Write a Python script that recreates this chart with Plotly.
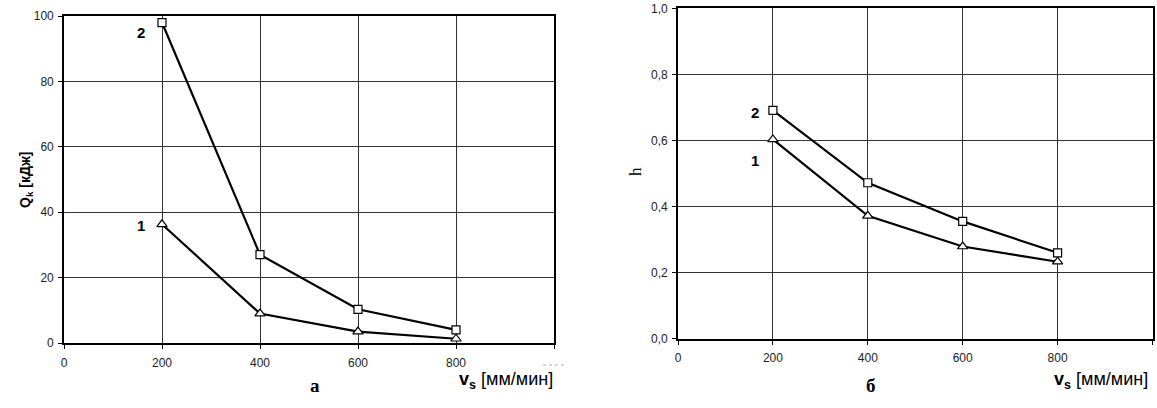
import plotly.graph_objects as go

W, H = 1157, 408

vs = [200, 400, 600, 800]
# chart а: Qk [кДж]
qk_1 = [36.3, 9.0, 3.5, 1.3]
qk_2 = [98.0, 27.0, 10.3, 4.0]
# chart б: h
h_1 = [0.603, 0.372, 0.279, 0.233]
h_2 = [0.691, 0.472, 0.355, 0.260]

x_ticks = [0, 200, 400, 600, 800, 1000]
x_ticktext = ["0", "200", "400", "600", "800", ""]
qk_ticks = [0, 20, 40, 60, 80, 100]
h_ticks = [0.0, 0.2, 0.4, 0.6, 0.8, 1.0]
h_ticktext = ["0,0", "0,2", "0,4", "0,6", "0,8", "1,0"]

SANS = "Liberation Sans, Arial, sans-serif"
SERIF = "Liberation Serif, Times New Roman, serif"

fig = go.Figure()

def add_series(x, y, xa, ya, symbol, size):
    fig.add_trace(go.Scatter(
        x=x, y=y, xaxis=xa, yaxis=ya, mode="lines+markers",
        line=dict(color="black", width=2.2),
        marker=dict(symbol=symbol, size=size, color="white",
                    line=dict(color="black", width=1.2)),
        showlegend=False, hoverinfo="skip"))

add_series(vs, qk_1, "x", "y", "triangle-up", 9)
add_series(vs, qk_2, "x", "y", "square", 8)
add_series(vs, h_1, "x2", "y2", "triangle-up", 9)
add_series(vs, h_2, "x2", "y2", "square", 8)

def px_x(a, b):
    return [a / W, b / W]

def px_y(top, bottom):
    return [(H - bottom) / H, (H - top) / H]

axis_common = dict(
    showline=True, linecolor="black", linewidth=1.6, mirror=True,
    showgrid=True, gridcolor="#333", gridwidth=1,
    ticks="outside", ticklen=4, tickcolor="black", tickwidth=1,
    zeroline=False, automargin=False,
    tickfont=dict(family=SANS, size=12, color="#222"),
)

fig.update_layout(
    width=W, height=H, margin=dict(l=0, r=0, t=0, b=0, autoexpand=False),
    paper_bgcolor="white", plot_bgcolor="white",
    xaxis=dict(domain=px_x(64, 554), range=[0, 1000], tickvals=x_ticks,
               ticktext=x_ticktext, anchor="y", ticklabelstandoff=4,
               **axis_common),
    yaxis=dict(domain=px_y(16, 343), range=[0, 100], tickvals=qk_ticks,
               anchor="x", ticklabelstandoff=2, **axis_common),
    xaxis2=dict(domain=px_x(678, 1152.5), range=[0, 1000], tickvals=x_ticks,
                ticktext=x_ticktext, anchor="y2", ticklabelstandoff=3,
                **axis_common),
    yaxis2=dict(domain=px_y(8.3, 338.7), range=[0, 1.0], tickvals=h_ticks,
                ticktext=h_ticktext, anchor="x2", ticklabelstandoff=2,
                **axis_common),
)

lab_font = dict(family=SANS, size=15, color="black")
ann = [
    dict(x=vs[0], y=qk_2[0], xref="x", yref="y", text="<b>2</b>", showarrow=False,
         xshift=-21, yshift=-10, font=lab_font),
    dict(x=vs[0], y=qk_1[0], xref="x", yref="y", text="<b>1</b>", showarrow=False,
         xshift=-21, yshift=-1, font=lab_font),
    dict(x=vs[0], y=h_2[0], xref="x2", yref="y2", text="<b>2</b>", showarrow=False,
         xshift=-18, yshift=-2, font=lab_font),
    dict(x=vs[0], y=h_1[0], xref="x2", yref="y2", text="<b>1</b>", showarrow=False,
         xshift=-18, yshift=-21, font=lab_font),
    # y titles
    dict(x=15 / W, y=1 - 180 / H, xref="paper", yref="paper",
         text="<b>Q<sub>k</sub> [кДж]</b>", textangle=-90, showarrow=False,
         font=dict(family=SANS, size=14, color="black")),
    dict(x=635 / W, y=1 - 172 / H, xref="paper", yref="paper",
         text="h", textangle=-90, showarrow=False,
         font=dict(family=SERIF, size=17, color="black")),
    # x titles
    dict(x=555 / W, y=1 - 367 / H, xref="paper", yref="paper",
         xanchor="right", yanchor="top",
         text="<b>v</b><sub><b>s</b></sub> [мм/мин]", showarrow=False,
         font=dict(family=SANS, size=18, color="black")),
    dict(x=1150 / W, y=1 - 367 / H, xref="paper", yref="paper",
         xanchor="right", yanchor="top",
         text="<b>v</b><sub><b>s</b></sub> [мм/мин]", showarrow=False,
         font=dict(family=SANS, size=18, color="black")),
    # panel letters
    dict(x=308 / W, y=1 - 398 / H, xref="paper", yref="paper",
         text="<b>а</b>", showarrow=False,
         font=dict(family=SERIF, size=19, color="black")),
    dict(x=878 / W, y=1 - 398 / H, xref="paper", yref="paper",
         text="<b>б</b>", showarrow=False,
         font=dict(family=SERIF, size=19, color="black")),
]
fig.update_layout(annotations=ann)

# small dotted scan artefact to the right of the first x title
fig.add_shape(type="line", xref="paper", yref="paper",
              x0=543 / W, x1=567 / W, y0=1 - 365 / H, y1=1 - 365 / H,
              line=dict(color="#aaa", width=1, dash="dot"))

fig.write_html("out.html")
